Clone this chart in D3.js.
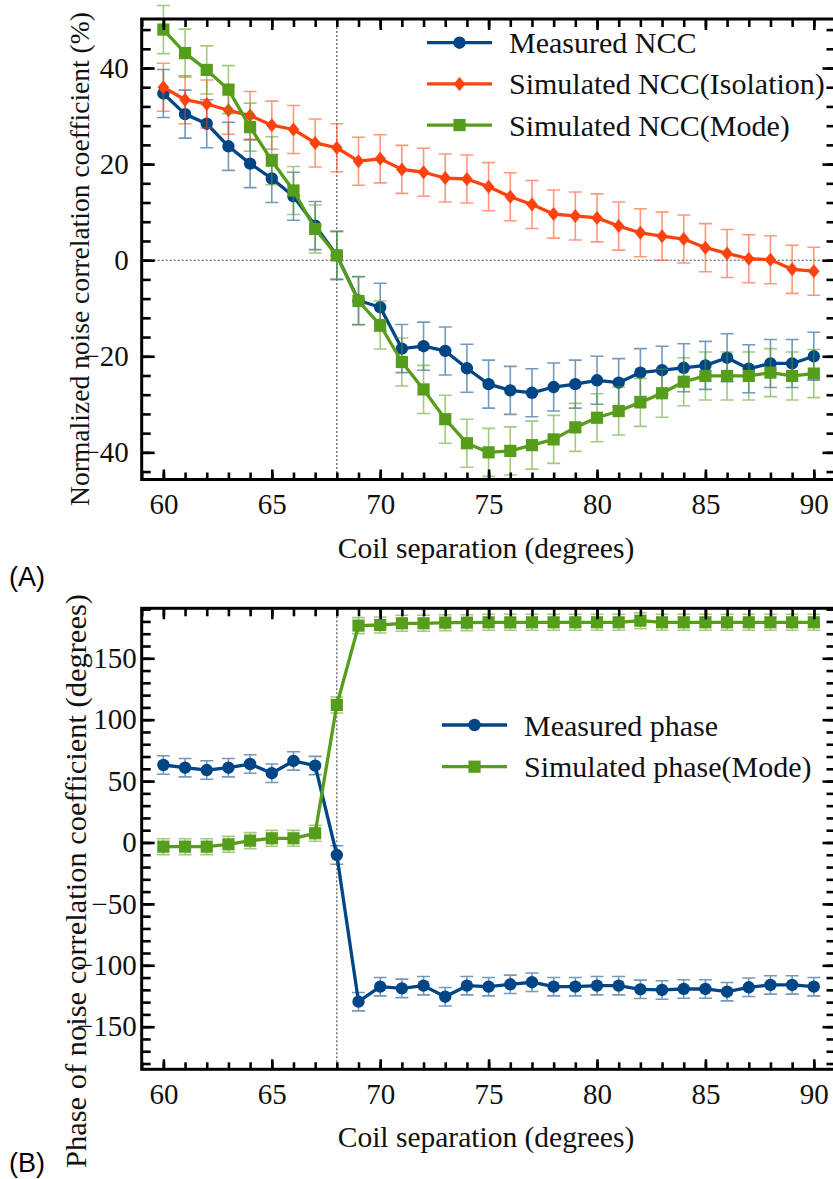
<!DOCTYPE html>
<html>
<head>
<meta charset="utf-8">
<script src="https://cdn.jsdelivr.net/npm/d3@7"></script>
<style>
  html, body { margin: 0; padding: 0; background: #fff; }
  svg { display: block; }
</style>
</head>
<body>
<svg id="chart" width="833" height="1179"></svg>
<script>
// ---------------- DATA ----------------
const separation = [60,61,62,63,64,65,66,67,68,69,70,71,72,73,74,75,76,77,78,79,80,81,82,83,84,85,86,87,88,89,90];

// Panel A: normalized noise correlation coefficient (%)
const measuredNCC  = [34.7,30.4,28.4,23.7,20.1,17.0,13.3,7.2,1.0,-8.4,-9.8,-18.4,-17.9,-18.9,-22.5,-25.8,-27.1,-27.6,-26.4,-25.8,-25.0,-25.5,-23.4,-22.9,-22.4,-21.9,-20.3,-22.6,-21.5,-21.5,-20.0];
const isolationNCC = [36.0,33.4,32.5,31.2,30.1,28.1,27.2,24.4,23.4,20.6,21.1,18.9,18.3,17.1,16.9,15.3,13.2,11.6,9.6,9.2,8.8,7.1,5.7,5.0,4.4,2.6,1.4,0.3,0.1,-1.9,-2.3];
const modeNCC      = [48.0,43.1,39.6,35.5,27.7,20.7,14.5,6.5,1.0,-8.5,-13.5,-21.2,-26.9,-33.1,-38.1,-40.0,-39.7,-38.5,-37.3,-34.8,-32.8,-31.4,-29.6,-27.7,-25.3,-24.1,-24.1,-24.1,-23.4,-24.1,-23.6];
const measuredNCCErr  = 5;
const isolationNCCErr = 5;
const modeNCCErr      = 5;

// Panel B: phase of noise correlation coefficient (degrees)
const measuredPhase = [63.1,60.9,59.0,60.9,63.9,56.4,66.4,62.6,-10.2,-129.6,-117.4,-118.8,-116.6,-125.6,-116.6,-117.4,-115.5,-113.8,-117.4,-117.4,-116.6,-116.6,-119.6,-120.1,-119.3,-119.3,-121.5,-117.9,-116.0,-116.0,-117.4];
const modePhase     = [-3.4,-3.4,-3.4,-1.5,1.5,3.4,3.4,7.5,112.0,176.6,177.1,178.5,178.5,179.0,179.0,179.3,179.3,179.3,179.3,179.3,179.3,179.3,180.6,179.3,179.3,179.3,179.3,179.3,179.3,179.3,179.3];
const measuredPhaseErr = 7.5;
const modePhaseErr     = 6.5;

// Ticks
const xMajorTicks = [60,65,70,75,80,85,90];
const xMinorTicks = [59,60,61,62,63,64,65,66,67,68,69,70,71,72,73,74,75,76,77,78,79,80,81,82,83,84,85,86,87,88,89,90,91];
const nccMajorTicks = [-40,-20,0,20,40];
const nccMinorTicks = [-44,-40,-36,-32,-28,-24,-20,-16,-12,-8,-4,0,4,8,12,16,20,24,28,32,36,40,44,48];
const phaseMajorTicks = [-150,-100,-50,0,50,100,150];
const phaseMinorTicks = [-180,-170,-160,-150,-140,-130,-120,-110,-100,-90,-80,-70,-60,-50,-40,-30,-20,-10,0,10,20,30,40,50,60,70,80,90,100,110,120,130,140,150,160,170,180,190];

const xTitle = "Coil separation (degrees)";
const nccTitle = "Normalized noise correlation coefficient (%)";
const phaseTitle = "Phase of noise correlation coefficient (degrees)";

const BLUE = "#004586", RED = "#ff420e", GREEN = "#579d1c";

// ---------------- DRAW ----------------
const svg = d3.select("#chart");
svg.append("rect").attr("width", 833).attr("height", 1179).attr("fill", "#fff");

const SERIF = "'Liberation Serif', 'Times New Roman', serif";
const X0 = 141.7, X1 = 835.5;
const x = d3.scaleLinear().domain([59, 91]).range([X0, X1]);

function markerPath(shape, cx, cy) {
  if (shape === "circle") {
    const r = 6.2;
    return `M${cx - r},${cy}a${r},${r} 0 1,0 ${2*r},0a${r},${r} 0 1,0 ${-2*r},0Z`;
  } else if (shape === "square") {
    const h = 6.1;
    return `M${cx-h},${cy-h}h${2*h}v${2*h}h${-2*h}Z`;
  } else {
    const w = 5.8, h = 7.0;
    return `M${cx},${cy-h}L${cx+w},${cy}L${cx},${cy+h}L${cx-w},${cy}Z`;
  }
}

function panel(cfg) {
  const y = d3.scaleLinear().domain(cfg.yDomain).range([cfg.bottom, cfg.top]);
  const g = svg.append("g");

  // reference dotted lines
  g.append("line").attr("x1", x(68)).attr("x2", x(68)).attr("y1", cfg.top).attr("y2", cfg.bottom)
    .attr("stroke", "#444").attr("stroke-width", 1.1).attr("stroke-dasharray", "2,2");
  if (cfg.zeroLine) {
    g.append("line").attr("x1", X0).attr("x2", X1).attr("y1", y(0)).attr("y2", y(0))
      .attr("stroke", "#444").attr("stroke-width", 1.1).attr("stroke-dasharray", "2,2");
  }

  // series
  cfg.series.forEach(s => {
    const sg = g.append("g");
    const capW = 6.5;
    sg.selectAll(".err").data(s.values).enter().append("path")
      .attr("d", (v, i) => {
        const cx = x(separation[i]), y1 = y(v - s.err), y2 = y(v + s.err);
        return `M${cx},${y1}V${y2}M${cx-capW},${y1}H${cx+capW}M${cx-capW},${y2}H${cx+capW}`;
      })
      .attr("stroke", s.color).attr("stroke-opacity", 0.55).attr("stroke-width", 1.6).attr("fill", "none");
    const line = d3.line().x((v, i) => x(separation[i])).y(v => y(v));
    sg.append("path").attr("d", line(s.values)).attr("fill", "none")
      .attr("stroke", s.color).attr("stroke-width", 3.3).attr("stroke-linejoin", "round");
    sg.selectAll(".mk").data(s.values).enter().append("path")
      .attr("d", (v, i) => markerPath(s.shape, x(separation[i]), y(v)))
      .attr("fill", s.color);
  });

  // axes
  function styleAxis(sel) {
    sel.select(".domain").remove();
    sel.selectAll(".tick line").attr("stroke", "#000").attr("stroke-width", 2.6);
    sel.selectAll(".tick text").attr("font-family", SERIF).attr("font-size", 29).attr("fill", "#111");
  }
  // bottom
  g.append("g").attr("transform", `translate(0,${cfg.bottom})`)
    .call(d3.axisBottom(x).tickValues(xMinorTicks).tickSizeInner(-7).tickSizeOuter(0).tickFormat(""))
    .call(styleAxis);
  g.append("g").attr("transform", `translate(0,${cfg.bottom})`)
    .call(d3.axisBottom(x).tickValues(xMajorTicks).tickSizeInner(-10).tickSizeOuter(0).tickPadding(14).tickFormat(d3.format("d")))
    .call(styleAxis);
  // top
  g.append("g").attr("transform", `translate(0,${cfg.top})`)
    .call(d3.axisTop(x).tickValues(xMinorTicks).tickSizeInner(-8).tickSizeOuter(0).tickFormat(""))
    .call(styleAxis);
  g.append("g").attr("transform", `translate(0,${cfg.top})`)
    .call(d3.axisTop(x).tickValues(xMajorTicks).tickSizeInner(-11).tickSizeOuter(0).tickFormat(""))
    .call(styleAxis);
  // left
  g.append("g").attr("transform", `translate(${X0},0)`)
    .call(d3.axisLeft(y).tickValues(cfg.yMinor).tickSizeInner(-9).tickSizeOuter(0).tickFormat(""))
    .call(styleAxis);
  g.append("g").attr("transform", `translate(${X0},0)`)
    .call(d3.axisLeft(y).tickValues(cfg.yMajor).tickSizeInner(-13).tickSizeOuter(0).tickPadding(cfg.yPad)
      .tickFormat(d => d < 0 ? "\u2212" + Math.abs(d) : String(d)))
    .call(styleAxis);
  // right
  g.append("g").attr("transform", `translate(${X1},0)`)
    .call(d3.axisRight(y).tickValues(cfg.yMinor).tickSizeInner(-9).tickSizeOuter(0).tickFormat(""))
    .call(styleAxis);
  g.append("g").attr("transform", `translate(${X1},0)`)
    .call(d3.axisRight(y).tickValues(cfg.yMajor).tickSizeInner(-13).tickSizeOuter(0).tickFormat(""))
    .call(styleAxis);

  // frame
  g.append("rect").attr("x", X0).attr("y", cfg.top).attr("width", X1 - X0).attr("height", cfg.bottom - cfg.top)
    .attr("fill", "none").attr("stroke", "#000").attr("stroke-width", 3);

  // titles
  g.append("text").attr("x", 486).attr("y", cfg.bottom + 78).attr("text-anchor", "middle")
    .attr("font-family", SERIF).attr("font-size", 29.5).attr("fill", "#111").text(xTitle);
  const yt = g.append("text").attr("transform", `translate(${cfg.yTitleX},${cfg.yTitleCenter}) rotate(-90)`).attr("text-anchor", "middle")
    .attr("font-family", SERIF).attr("font-size", 29).attr("fill", "#111")
    .text(cfg.yTitle);
  const natural = yt.node().getComputedTextLength();
  if (natural > 0) yt.attr("font-size", (29 * cfg.yTitleLen / natural).toFixed(2));

  g.append("text").attr("x", 9).attr("y", cfg.panelLabelY)
    .attr("font-family", "'Liberation Sans', Arial, sans-serif").attr("font-size", 27).attr("fill", "#000")
    .text(cfg.panelLabel);

  // legend
  const lg = g.append("g");
  cfg.series.forEach((s, i) => {
    const ly = cfg.legendY + i * cfg.legendStep;
    lg.append("line").attr("x1", cfg.legendX).attr("x2", cfg.legendX + 65).attr("y1", ly).attr("y2", ly)
      .attr("stroke", s.color).attr("stroke-width", 3.3);
    lg.append("path").attr("d", markerPath(s.shape, cfg.legendX + 32.5, ly)).attr("fill", s.color);
    lg.append("text").attr("x", cfg.legendX + 82).attr("y", ly + 10.5)
      .attr("font-family", SERIF).attr("font-size", 30).attr("fill", "#111").text(s.name);
  });
}

panel({
  top: 19, bottom: 479.5, yDomain: [-45.65, 50.2],
  yMajor: nccMajorTicks, yMinor: nccMinorTicks, zeroLine: true, yPad: 13,
  yTitle: nccTitle, yTitleX: 89, yTitleCenter: 259, yTitleLen: 494, panelLabel: "(A)", panelLabelY: 586,
  legendX: 427, legendY: 42.7, legendStep: 41.2,
  series: [
    { name: "Measured NCC", values: measuredNCC, err: measuredNCCErr, color: BLUE, shape: "circle" },
    { name: "Simulated NCC(Isolation)", values: isolationNCC, err: isolationNCCErr, color: RED, shape: "diamond" },
    { name: "Simulated NCC(Mode)", values: modeNCC, err: modeNCCErr, color: GREEN, shape: "square" }
  ]
});

panel({
  top: 608.3, bottom: 1069.3, yDomain: [-184.7, 190.7],
  yMajor: phaseMajorTicks, yMinor: phaseMinorTicks, zeroLine: false, yPad: 5,
  yTitle: phaseTitle, yTitleX: 86, yTitleCenter: 881, yTitleLen: 574, panelLabel: "(B)", panelLabelY: 1172,
  legendX: 442, legendY: 725, legendStep: 41.7,
  series: [
    { name: "Measured phase", values: measuredPhase, err: measuredPhaseErr, color: BLUE, shape: "circle" },
    { name: "Simulated phase(Mode)", values: modePhase, err: modePhaseErr, color: GREEN, shape: "square" }
  ]
});
</script>
</body>
</html>
